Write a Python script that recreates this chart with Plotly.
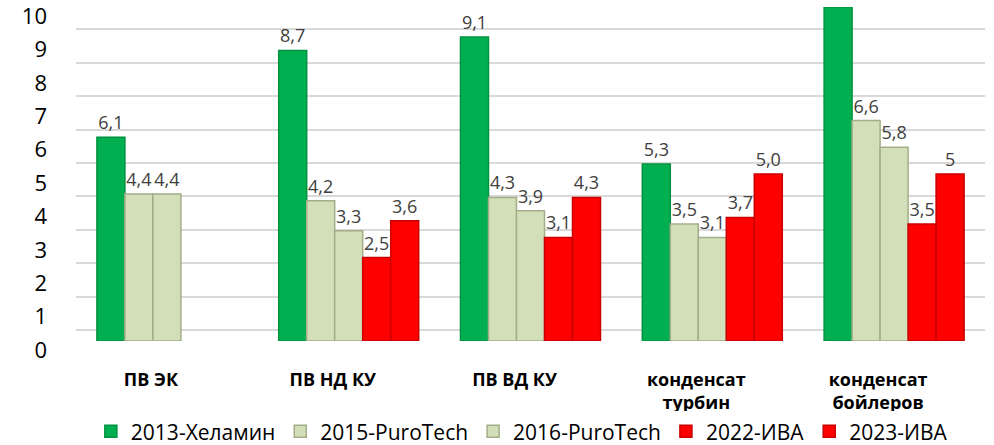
import plotly.graph_objects as go

categories = ["ПВ ЭК", "ПВ НД КУ", "ПВ ВД КУ", "конденсат<br>турбин", "конденсат<br>бойлеров"]
series_names = ["2013-Хеламин", "2015-PuroTech", "2016-PuroTech", "2022-ИВА", "2023-ИВА"]
v2013 = [6.1, 8.7, 9.1, 5.3, 10.0]
v2015 = [4.4, 4.2, 4.3, 3.5, 6.6]
v2016 = [4.4, 3.3, 3.9, 3.1, 5.8]
v2022 = [None, 2.5, 3.1, 3.7, 3.5]
v2023 = [None, 3.6, 4.3, 5.0, 5.0]
labels2013 = ["6,1", "8,7", "9,1", "5,3", ""]
labels2015 = ["4,4", "4,2", "4,3", "3,5", "6,6"]
labels2016 = ["4,4", "3,3", "3,9", "3,1", "5,8"]
labels2022 = ["", "2,5", "3,1", "3,7", "3,5"]
labels2023 = ["", "3,6", "4,3", "5,0", "5"]
y_ticks = [0, 1, 2, 3, 4, 5, 6, 7, 8, 9, 10]

fills = ["#00b050", "#d3dfb8", "#d3dfb8", "#ff0000", "#ff0000"]
edges = ["#00923f", "#a3ae88", "#a3ae88", "#c80000", "#c80000"]
values = [v2013, v2015, v2016, v2022, v2023]
labels = [labels2013, labels2015, labels2016, labels2022, labels2023]

FONT = "Open Sans, sans-serif"

fig = go.Figure()
for name, vals, txt, fc, ec in zip(series_names, values, labels, fills, edges):
    fig.add_trace(go.Bar(
        x=categories, y=vals, name=name, text=txt,
        textposition="outside", cliponaxis=False,
        textfont=dict(family=FONT, size=18, color="#404040"),
        marker=dict(color=fc, line=dict(color=ec, width=1.5)),
    ))
# helper trace so the background grid axis (y2) is drawn
fig.add_trace(go.Scatter(x=[categories[0]], y=[None], yaxis="y2", showlegend=False,
                         hoverinfo="skip", mode="markers"))

fig.update_layout(
    width=994, height=445,
    margin=dict(l=76, r=9, t=7, b=104),
    barmode="group", bargap=0.23, bargroupgap=0,
    plot_bgcolor="white", paper_bgcolor="white",
    font=dict(family=FONT, color="black"),
    showlegend=True,
    legend=dict(orientation="h", x=0.525, xanchor="center", xref="container",
                y=0.03, yanchor="middle", yref="container",
                font=dict(size=21, color="black"), itemwidth=30, traceorder="normal"),
    xaxis=dict(
        tickfont=dict(size=18, color="black", family=FONT, weight="bold"),
        ticklabelstandoff=26, ticklabelshift=-16, showline=False, showgrid=False,
        automargin=False,
    ),
    yaxis=dict(
        range=[0, 10], tickvals=y_ticks, ticktext=[str(t) for t in y_ticks],
        tickfont=dict(size=22, color="black", family=FONT),
        showgrid=False, zeroline=False, ticklabelstandoff=28, ticklabelshift=9,
        automargin=False, ticklabeloverflow="allow",
    ),
    yaxis2=dict(overlaying="y", anchor="x", range=[-0.33, 9.67], showgrid=True,
                gridcolor="#d9d9d9", gridwidth=2, dtick=1, showticklabels=False,
                zeroline=False, side="right", automargin=False),
)
fig.write_html("out.html", config={"displayModeBar": False},
               post_script="document.body.style.margin='0';")
